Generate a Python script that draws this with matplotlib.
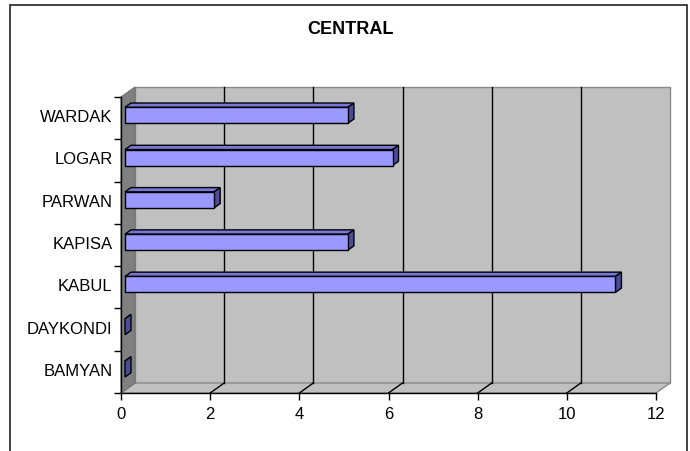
import numpy as np
import matplotlib
matplotlib.use('Agg')
import matplotlib.pyplot as plt
from matplotlib.patches import Polygon, Rectangle
from matplotlib.transforms import ScaledTranslation

# dados
provinces = ['BAMYAN', 'DAYKONDI', 'KABUL', 'KAPISA', 'PARWAN', 'LOGAR', 'WARDAK']
values = [0, 0, 11, 5, 2, 6, 5]
xticks = [0, 2, 4, 6, 8, 10, 12]

plt.rcParams['font.family'] = ['Liberation Sans', 'DejaVu Sans']

W, H = 690, 451
fig = plt.figure(figsize=(W / 100, H / 100), dpi=100)

# front plane of the 3D box, in pixels
x0, x1 = 121, 656
yb, yt = 393, 97
ax = fig.add_axes([x0 / W, (H - yb) / H, (x1 - x0) / W, (yb - yt) / H])
ax.set_xlim(0, 12)
ax.set_ylim(-0.5, 6.5)

# depth offset of the back wall (pixels -> data units)
ppx = (x1 - x0) / 12
ppy = (yb - yt) / 7
DX, DY = 14 / ppx, 10 / ppy


def proj(x, y, d):
    return (x + d * DX, y + d * DY)


def poly(pts, **kw):
    p = Polygon(pts, closed=True, clip_on=False, **kw)
    ax.add_patch(p)
    return p


ylo, yhi = -0.5, 6.5
# back wall
poly([proj(0, ylo, 1), proj(12, ylo, 1), proj(12, yhi, 1), proj(0, yhi, 1)],
     fc='#C0C0C0', ec='#8a8a8a', lw=1, zorder=1)
# floor
poly([proj(0, ylo, 0), proj(12, ylo, 0), proj(12, ylo, 1), proj(0, ylo, 1)],
     fc='#C0C0C0', ec='#8a8a8a', lw=1, zorder=1)
# side wall
poly([proj(0, ylo, 0), proj(0, ylo, 1), proj(0, yhi, 1), proj(0, yhi, 0)],
     fc='#808080', ec='#707070', lw=0.8, zorder=1)

# gridlines
for v in xticks[1:-1]:
    a, b = proj(v, ylo, 1), proj(v, yhi, 1)
    ax.plot([a[0], b[0]], [a[1], b[1]], color='black', lw=1, zorder=2, clip_on=False)
    a, b = proj(v, ylo, 0), proj(v, ylo, 1)
    ax.plot([a[0], b[0]], [a[1], b[1]], color='black', lw=1, zorder=2, clip_on=False)

# bars
d0, d1 = 4 / 14, 10 / 14
h = 8 / ppy
for i, v in enumerate(values):
    lo, hi = i - h, i + h
    poly([proj(0, hi, d0), proj(v, hi, d0), proj(v, hi, d1), proj(0, hi, d1)],
         fc='#7777D6', ec='black', lw=1, zorder=3)
    poly([proj(v, lo, d0), proj(v, hi, d0), proj(v, hi, d1), proj(v, lo, d1)],
         fc='#4C4C99', ec='black', lw=1, zorder=3)
    if v > 0:
        poly([proj(0, lo, d0), proj(v, lo, d0), proj(v, hi, d0), proj(0, hi, d0)],
             fc='#9999FF', ec='black', lw=1, zorder=4)

# axes
for s in ['top', 'right']:
    ax.spines[s].set_visible(False)
for s in ['left', 'bottom']:
    ax.spines[s].set_color('black')
    ax.spines[s].set_linewidth(1)
    ax.spines[s].set_zorder(5)
ax.patch.set_visible(False)

ax.set_xticks(xticks)
ax.set_xticklabels([str(t) for t in xticks])
ax.set_yticks(np.arange(len(provinces)))
ax.set_yticklabels(provinces)
ax.set_yticks(np.arange(-0.5, 7, 1), minor=True)
ax.tick_params(axis='y', which='major', length=0, pad=6, labelsize=12)
ax.tick_params(axis='y', which='minor', length=5, width=1, direction='out')
ax.tick_params(axis='x', which='major', length=5, width=1, direction='out', pad=5, labelsize=12)
up = ScaledTranslation(0, 2 / 100, fig.dpi_scale_trans)
for lab in ax.get_yticklabels():
    lab.set_transform(lab.get_transform() + up)

fig.text(350 / W, 1 - 29.5 / H, 'CENTRAL', ha='center', va='center',
         fontsize=13, fontweight='bold')

# outer frame
fig.add_artist(Rectangle((10 / W, -0.1), 677 / W, 1.1 - 4.5 / H, transform=fig.transFigure,
                         fill=False, ec='#222222', lw=1.2))

fig.savefig('out.png', dpi=100)
